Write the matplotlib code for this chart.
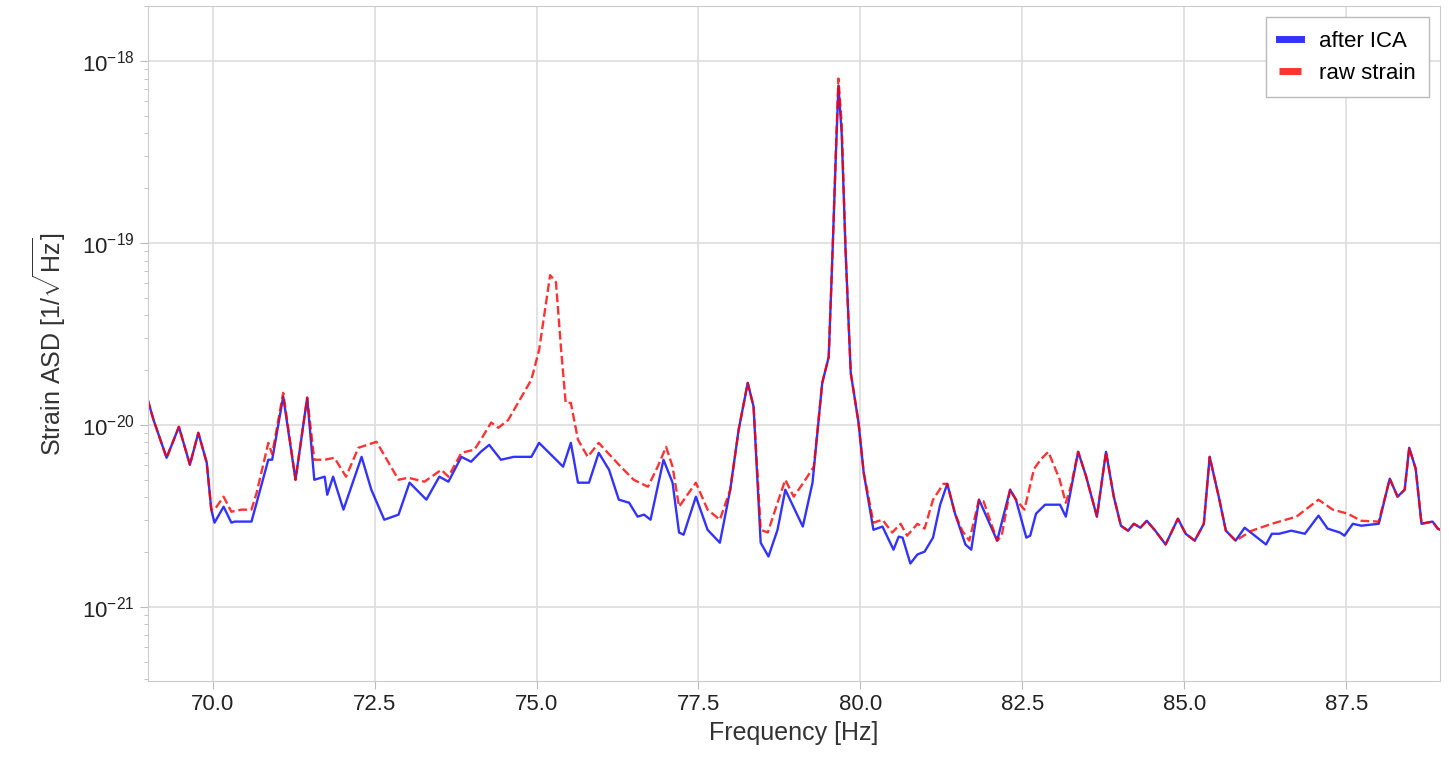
import numpy as np
import matplotlib.pyplot as plt
from matplotlib.ticker import NullFormatter

plt.rcParams['font.family'] = ['Liberation Sans', 'DejaVu Sans']
plt.rcParams['mathtext.fontset'] = 'custom'
plt.rcParams['mathtext.rm'] = 'Liberation Sans'

# ASD values in units of 1e-21 / sqrt(Hz)
freq_ica = [69.0, 69.09, 69.29, 69.48, 69.65, 69.78, 69.91, 69.98, 70.03, 70.17, 70.29, 70.34,
            70.60, 70.68, 70.86, 70.92, 71.09, 71.28, 71.46, 71.57, 71.73, 71.77, 71.86, 72.02,
            72.30, 72.45, 72.65, 72.87, 73.04, 73.30, 73.50, 73.64, 73.84, 73.99, 74.14, 74.27,
            74.45, 74.65, 74.92, 75.04, 75.41, 75.53, 75.64, 75.81, 75.96, 76.12, 76.27, 76.43,
            76.56, 76.66, 76.76, 76.96, 77.10, 77.20, 77.27, 77.46, 77.64, 77.83, 77.99, 78.12,
            78.26, 78.35, 78.46, 78.58, 78.72, 78.84, 79.11, 79.26, 79.41, 79.51, 79.57, 79.62,
            79.66, 79.71, 79.77, 79.85, 79.97, 80.05, 80.20, 80.34, 80.51, 80.59, 80.65, 80.77,
            80.88, 80.99, 81.12, 81.23, 81.34, 81.46, 81.62, 81.71, 81.83, 82.11, 82.31, 82.40,
            82.56, 82.62, 82.71, 82.85, 83.08, 83.17, 83.22, 83.36, 83.48, 83.65, 83.79, 83.91,
            84.02, 84.13, 84.22, 84.32, 84.42, 84.55, 84.71, 84.90, 85.02, 85.16, 85.30, 85.39,
            85.53, 85.64, 85.79, 85.93, 86.26, 86.35, 86.46, 86.65, 86.86, 87.07, 87.21, 87.40,
            87.47, 87.60, 87.73, 88.00, 88.17, 88.29, 88.40, 88.47, 88.57, 88.66, 88.83, 88.91,
            89.0]
asd_ica = [13.7, 10.6, 6.59, 9.75, 6.04, 9.04, 6.19, 3.42, 2.90, 3.55, 2.90, 2.94,
           2.94, 3.73, 6.43, 6.43, 14.3, 4.99, 14.1, 4.99, 5.19, 4.13, 5.19, 3.42,
           6.67, 4.40, 3.01, 3.21, 4.81, 3.88, 5.19, 4.87, 6.67, 6.27, 7.11, 7.76,
           6.43, 6.67, 6.67, 7.96, 5.89, 7.96, 4.81, 4.81, 7.02, 5.66, 3.88, 3.73,
           3.13, 3.21, 3.01, 6.43, 4.81, 2.56, 2.49, 4.03, 2.65, 2.25, 4.40, 9.4,
           17.0, 12.6, 2.25, 1.89, 2.65, 4.40, 2.76, 4.81, 17.0, 23.6, 91.0, 300.0,
           733.0, 400.0, 91.0, 19.3, 10.3, 5.46, 2.65, 2.76, 2.06, 2.43, 2.40, 1.73,
           1.94, 2.01, 2.40, 3.64, 4.74, 3.25, 2.20, 2.06, 3.88, 2.31, 4.40, 3.88,
           2.40, 2.46, 3.25, 3.64, 3.64, 3.13, 3.88, 7.11, 5.25, 3.13, 7.11, 4.03,
           2.79, 2.62, 2.86, 2.72, 2.97, 2.62, 2.20, 3.05, 2.52, 2.31, 2.86, 6.67,
           4.03, 2.62, 2.31, 2.72, 2.20, 2.52, 2.52, 2.62, 2.52, 3.17, 2.69, 2.56,
           2.46, 2.86, 2.79, 2.86, 5.06, 4.03, 4.40, 7.48, 5.74, 2.86, 2.94, 2.69,
           2.6]

freq_raw = [69.0, 69.09, 69.29, 69.48, 69.65, 69.78, 69.91, 69.98, 70.03, 70.17, 70.29, 70.45,
            70.60, 70.68, 70.86, 70.92, 71.09, 71.28, 71.46, 71.57, 71.73, 71.88, 72.06, 72.25,
            72.53, 72.87, 73.02, 73.27, 73.53, 73.64, 73.84, 74.04, 74.14, 74.30, 74.41, 74.56,
            74.92, 75.04, 75.21, 75.30, 75.38, 75.45, 75.53, 75.64, 75.79, 75.96, 76.10, 76.30,
            76.50, 76.72, 76.87, 77.00, 77.10, 77.20, 77.46, 77.64, 77.83, 77.99, 78.12, 78.26,
            78.35, 78.46, 78.57, 78.72, 78.84, 78.97, 79.12, 79.28, 79.41, 79.51, 79.57, 79.62,
            79.66, 79.71, 79.77, 79.85, 79.97, 80.05, 80.20, 80.34, 80.49, 80.62, 80.72, 80.88,
            80.99, 81.12, 81.28, 81.34, 81.46, 81.57, 81.68, 81.83, 81.90, 82.11, 82.18, 82.31,
            82.40, 82.53, 82.68, 82.79, 82.90, 83.07, 83.17, 83.25, 83.36, 83.48, 83.65, 83.79,
            83.91, 84.02, 84.13, 84.22, 84.32, 84.42, 84.55, 84.71, 84.90, 85.02, 85.16, 85.30,
            85.39, 85.53, 85.64, 85.79, 86.04, 86.35, 86.73, 87.07, 87.29, 87.52, 87.73, 88.00,
            88.17, 88.29, 88.40, 88.47, 88.57, 88.66, 88.83, 88.91, 89.0]
asd_raw = [13.7, 10.6, 6.59, 9.75, 6.04, 9.04, 6.19, 3.42, 3.42, 4.03, 3.33, 3.42,
           3.42, 4.23, 7.96, 6.9, 15.0, 4.99, 14.1, 6.43, 6.43, 6.59, 5.19, 7.48,
           8.07, 4.99, 5.12, 4.87, 5.66, 5.19, 7.02, 7.30, 8.28, 10.3, 9.63, 10.6,
           17.7, 25.8, 66.5, 60.8, 25.8, 13.2, 13.2, 8.28, 6.67, 7.96, 7.02, 5.89,
           4.99, 4.57, 5.89, 7.57, 5.89, 3.55, 4.81, 3.42, 3.01, 4.40, 9.4, 17.0,
           12.6, 2.65, 2.56, 3.73, 4.99, 4.03, 4.81, 5.89, 17.0, 23.6, 91.0, 320.0,
           800.0, 450.0, 91.0, 19.3, 10.3, 5.46, 2.90, 3.01, 2.56, 2.86, 2.46, 2.86,
           2.69, 3.88, 4.74, 4.74, 3.25, 2.62, 2.31, 3.88, 3.80, 2.31, 2.46, 4.40,
           3.88, 3.42, 5.74, 6.50, 7.11, 5.06, 3.73, 4.62, 7.11, 5.25, 3.13, 7.11,
           4.03, 2.79, 2.62, 2.86, 2.72, 2.97, 2.62, 2.20, 3.05, 2.52, 2.31, 2.86,
           6.67, 4.03, 2.62, 2.31, 2.62, 2.86, 3.13, 3.88, 3.42, 3.25, 2.97, 2.94,
           5.06, 4.03, 4.40, 7.48, 5.74, 2.86, 2.94, 2.69, 2.6]

xticks = [70.0, 72.5, 75.0, 77.5, 80.0, 82.5, 85.0, 87.5]
yticks = [1e-21, 1e-20, 1e-19, 1e-18]

fig = plt.figure(figsize=(14.49, 7.68), dpi=100)
ax = fig.add_axes([0.102, 0.113, 0.892, 0.879])

ax.plot(freq_ica, np.array(asd_ica) * 1e-21, color='blue', lw=1.7, alpha=0.8, label='after ICA')
ax.plot(freq_raw, np.array(asd_raw) * 1e-21, color='red', lw=1.7, ls='--', alpha=0.8, label='raw strain')

ax.set_yscale('log')
ax.set_xlim(69.0, 88.95)
ax.set_ylim(3.9e-22, 2.0e-18)
ax.set_xticks(xticks)
ax.set_xticklabels(['%.1f' % t for t in xticks])
ax.set_yticks(yticks)
ax.yaxis.set_minor_formatter(NullFormatter())

ax.grid(True, which='major', color='#dddddd', lw=1.2)
for s in ax.spines.values():
    s.set_color('#cccccc')
ax.tick_params(which='both', colors='#bbbbbb', labelcolor='#222222', labelsize=16)
ax.tick_params(which='major', length=6)
ax.tick_params(which='minor', length=3)

ax.set_xlabel('Frequency [Hz]', fontsize=18, color='#333333')
ax.set_ylabel(r'Strain ASD [$1/\sqrt{\mathrm{Hz}}$]', fontsize=18, color='#333333', labelpad=10)

leg = ax.legend(loc='upper right', fontsize=16, handlelength=1.0, fancybox=False,
                framealpha=1, edgecolor='#bbbbbb', borderpad=0.6)
for h in leg.get_lines():
    h.set_linewidth(5)

fig.savefig('out.png', dpi=100)
